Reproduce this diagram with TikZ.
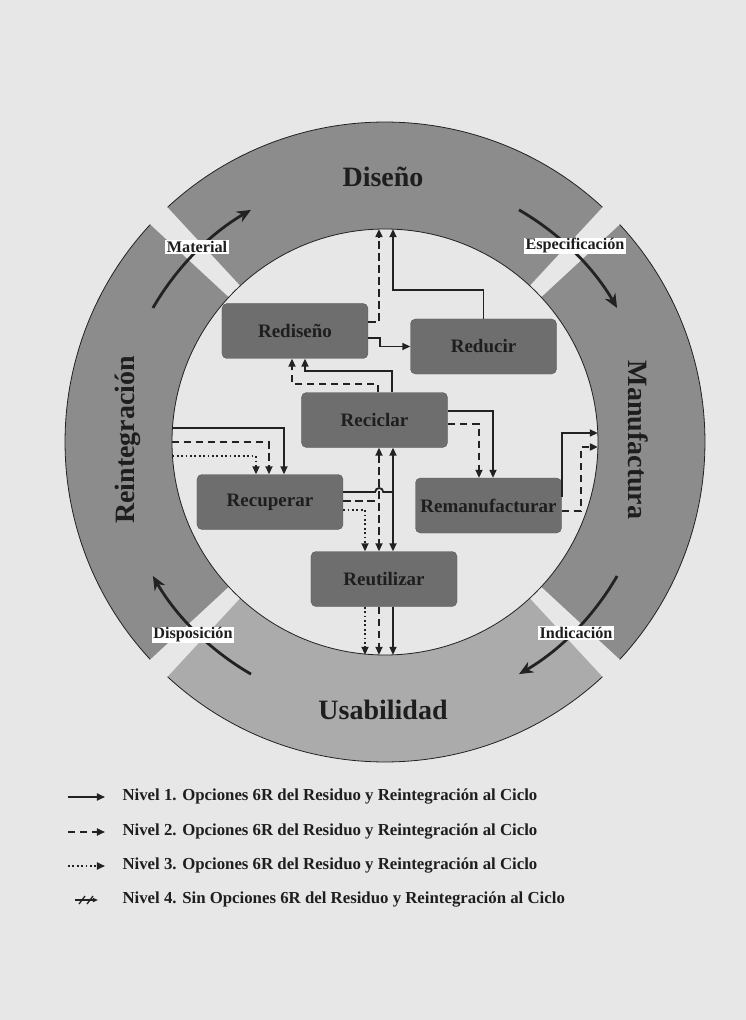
\documentclass[tikz,border=0pt]{standalone}
\usepackage{fontspec}
\setmainfont{Liberation Serif}
\usetikzlibrary{arrows.meta}
\definecolor{bgc}{HTML}{E7E7E7}
\definecolor{seg}{HTML}{8C8C8C}
\definecolor{segl}{HTML}{ABABAB}
\definecolor{boxfill}{HTML}{6E6E6E}
\definecolor{boxedge}{HTML}{575757}
\definecolor{txt}{HTML}{1E1E1E}
\definecolor{lin}{HTML}{222222}

\begin{document}
\begin{tikzpicture}[%
  x=1pt, y=1pt, >={Triangle[length=8pt,width=7pt]},
  block/.style={rectangle, rounded corners=5pt, draw=boxedge, fill=boxfill, text=txt,
    minimum width=146pt, minimum height=55pt, inner sep=0pt,
    font=\fontsize{19}{21}\selectfont\bfseries},
  phase/.style={text=txt, font=\fontsize{28}{30}\selectfont\bfseries},
  gaplabel/.style={fill=white, text=txt, inner xsep=1.5pt, inner ysep=1pt,
    font=\fontsize{16.2}{17}\selectfont\bfseries},
  legtext/.style={anchor=west, text=txt, font=\fontsize{16.8}{18}\selectfont\bfseries},
  lvlone/.style={->, line width=1.8pt, draw=lin},
  lvltwo/.style={lvlone, dash pattern=on 7.5pt off 4.5pt},
  lvlthree/.style={lvlone, dash pattern=on 1.8pt off 2.6pt},
  turn/.style={line width=2.8pt, draw=lin, -{Stealth[length=14pt,width=12pt]}},]
  \fill[bgc] (-385,-578) rectangle (361,442);
  % ring
  \foreach \a/\c [evaluate=\a as \lo using \a-42.8, evaluate=\a as \hi using \a+42.8]
    in {0/seg, 90/seg, 180/seg, 270/segl} {
    \fill[\c] (\lo:320) arc[start angle=\lo, end angle=\hi, radius=320]
      -- (\hi:213) arc[start angle=\hi, end angle=\lo, radius=213] -- cycle;
    \draw[line width=0.8pt, lin] (\lo:320) arc[start angle=\lo, end angle=\hi, radius=320];
  }
  \draw[line width=0.8pt, lin] (0,0) circle[radius=213];
  \foreach \g [evaluate=\g as \ga using \g+15, evaluate=\g as \gb using \g-15]
    in {135,45,-45,-135}
    \draw[turn] (\ga:268) arc[start angle=\ga, end angle=\gb, radius=268];
  \node[phase] (dis) at (-2,265) {Diseño};
  \node[phase] (usa) at (-2,-268) {Usabilidad};
  \node[phase, rotate=90] (rei) at (-257,2) {Reintegración};
  \node[phase, rotate=-90] (man) at (253,2) {Manufactura};
  \node[gaplabel] (mat) at (-188,195) {Material};
  \node[gaplabel] (esp) at (190,196) {Especificación};
  \node[gaplabel] (disp) at (-192,-193) {Disposición};
  \node[gaplabel] (ind) at (191,-191) {Indicación};
  % the six options
  \node[block] (redis) at (-90,111) {Rediseño};
  \node[block] (reduc) at (98.5,95.5) {Reducir};
  \node[block] (recic) at (-10.5,22) {Reciclar};
  \node[block] (recup) at (-115,-60) {Recuperar};
  \node[block] (reman) at (103.5,-63.5) {Remanufacturar};
  \node[block] (reuti) at (-1,-137) {Reutilizar};
  \coordinate (disA) at (8,212.8);
  \coordinate (disB) at (-6,212.9);
  \coordinate (manA) at (212.8,9);
  \coordinate (manB) at (212.9,-5);
  \coordinate (reiA) at (-212.5,14);
  \coordinate (reiB) at (-213,0);
  \coordinate (reiC) at (-212.5,-14);
  \coordinate (usa0) at (0,-212.8);
  \coordinate (busA) at (8,0);
  \coordinate (busB) at (-6,0);
  \coordinate (busC) at (-20,0);
  \draw[lvlone] (reduc.north) -- ++(0,29) -| (disA);
  \draw[lvltwo] ([yshift=9pt]redis.east) -| (disB);
  \draw[lvlone] ([yshift=-7pt]redis.east) -- ++(12,0) |- (reduc.west);
  \draw[lvlone] ([xshift=17.5pt]recic.north) -- ++(0,21) -| ([xshift=10pt]redis.south);
  \draw[lvltwo] ([xshift=3.5pt]recic.north) -- ++(0,8.5) -| ([xshift=-3pt]redis.south);
  \draw[lvlone] ([yshift=9pt]recic.east) -| ([xshift=4.5pt]reman.north);
  \draw[lvltwo] ([yshift=-4pt]recic.east) -| ([xshift=-9.5pt]reman.north);
  \draw[lvlone] ([yshift=8.5pt]reman.east) |- (manA);
  \draw[lvltwo] ([yshift=-5.5pt]reman.east) -- ++(19,0) |- (manB);
  \draw[lvlone] (reiA) -| ([xshift=14pt]recup.north);
  \draw[lvltwo] (reiB) -| ([xshift=-1pt]recup.north);
  \draw[lvlthree] (reiC) -| ([xshift=-14pt]recup.north);
  \draw[lvlone, <->] (recic.south -| busA) -- (reuti.north -| busA);
  \draw[lvltwo, <->] (recic.south -| busB) -- (reuti.north -| busB);
  \draw[lvlone, -] ([yshift=10pt]recup.east) -- ++(32,0)
    arc[start angle=180, end angle=0, radius=4] -- ++(10,0);
  \draw[lvltwo, -] ([yshift=1pt]recup.east) -- ++(36,0);
  \draw[lvlthree] ([yshift=-8pt]recup.east) -| (reuti.north -| busC);
  \foreach \b/\s in {busA/lvlone, busB/lvltwo, busC/lvlthree}
    \draw[\s] (reuti.south -| \b) -- (usa0 -| \b);
  % legend
  \foreach \y/\s/\n in {-355/lvlone/1, -390/lvltwo/2, -424/lvlthree/3} {
    \node[legtext] (leg\n) at (-266,\y) {Nivel \n. Opciones 6R del Residuo y Reintegración al Ciclo};
    \draw[\s] ([xshift=-51pt]leg\n.west) -- ([xshift=-14pt]leg\n.west);
  }
  \node[legtext] (leg4) at (-266,-458) {Nivel 4. Sin Opciones 6R del Residuo y Reintegración al Ciclo};
  \draw[lvlone, line width=1.3pt, -{Triangle[length=5pt,width=4pt]}]
    ([xshift=-44pt]leg4.west) -- ([xshift=-21pt]leg4.west);
  \foreach \d in {-37,-29}
    \draw[line width=1.3pt, lin] ([xshift=\d pt-3pt, yshift=-4pt]leg4.west) -- ++(6,8);
\end{tikzpicture}
\end{document}
